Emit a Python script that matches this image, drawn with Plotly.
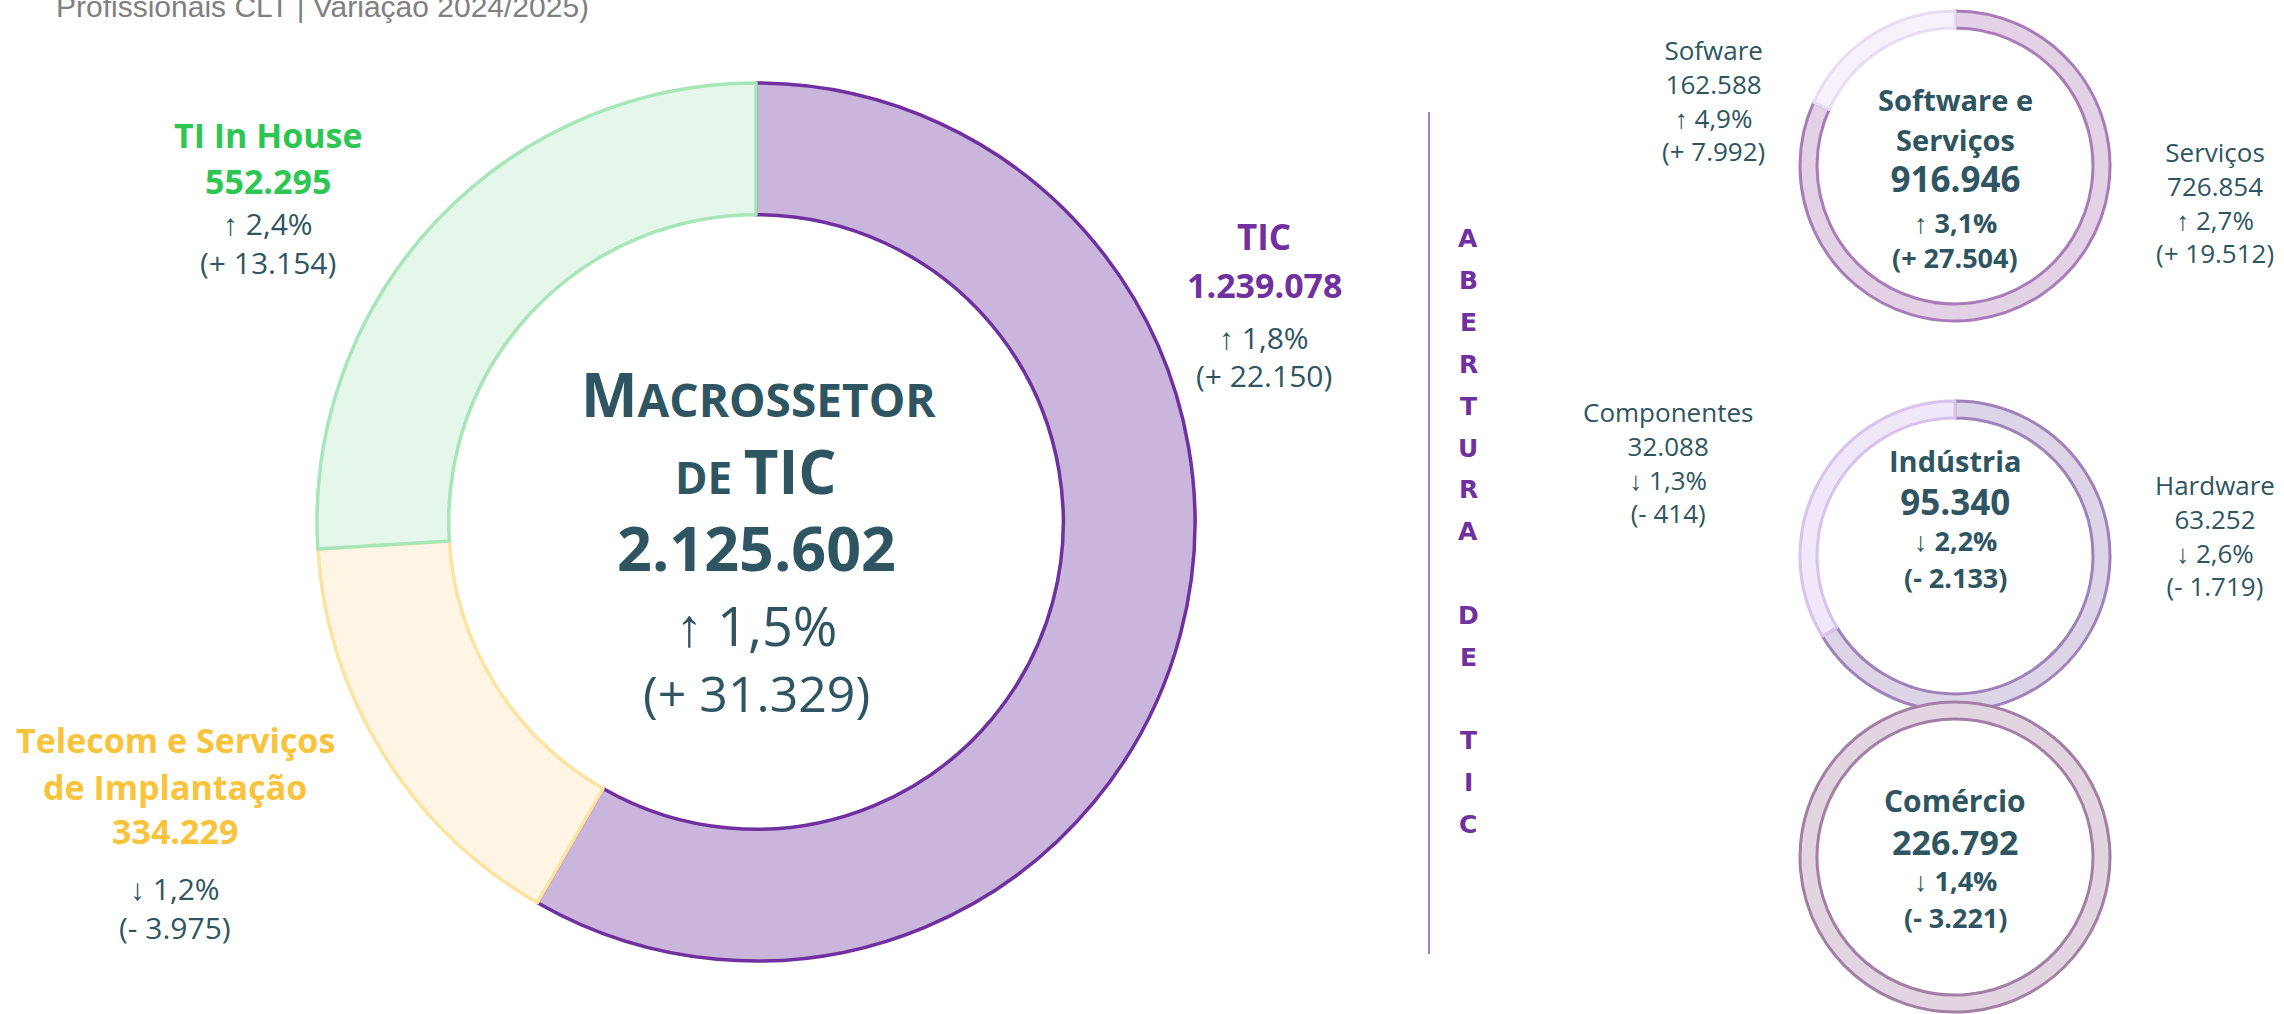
import plotly.graph_objects as go

W, H = 2284, 1014

# ---------------- data ----------------
main_labels = ["TIC", "Telecom e Serviços de Implantação", "TI In House"]
main_values = [1239078, 334229, 552295]
main_pct = [1.8, -1.2, 2.4]
main_delta = [22150, -3975, 13154]

total_value = 2125602
total_pct = 1.5
total_delta = 31329

sw_labels = ["Serviços", "Sofware"]
sw_values = [726854, 162588]
sw_pct = [2.7, 4.9]
sw_delta = [19512, 7992]
sw_total, sw_total_pct, sw_total_delta = 916946, 3.1, 27504

ind_labels = ["Hardware", "Componentes"]
ind_values = [63252, 32088]
ind_pct = [-2.6, -1.3]
ind_delta = [-1719, -414]
ind_total, ind_total_pct, ind_total_delta = 95340, -2.2, -2133

com_labels = ["Comércio"]
com_values = [226792]
com_pct, com_delta = -1.4, -3221

vertical_text = "ABERTURA DE TIC"
subtitle = "Profissionais CLT | Variação 2024/2025)"

# ---------------- helpers ----------------
def fint(n):
    return f"{abs(n):,}".replace(",", ".")

def fpct(p):
    arrow = "↑" if p >= 0 else "↓"
    return f"{arrow} " + f"{abs(p):.1f}".replace(".", ",") + "%"

def fdelta(d):
    sign = "+" if d >= 0 else "-"
    return f"({sign} {fint(d)})"

def px(x):
    return x / W

def py(y):
    return 1 - y / H

def dom(cx, cy, r):
    return dict(x=[px(cx - r), px(cx + r)], y=[py(cy + r), py(cy - r)])

DARK = "#2E5561"
PURPLE = "#7030A0"
GREEN = "#2DC653"
YELLOW = "#F9C33B"
BOLD_FONT = "Open Sans, Roboto, sans-serif"
REG_FONT = "Open Sans, Roboto, sans-serif"

fig = go.Figure()

# main donut
fig.add_trace(go.Pie(
    labels=main_labels, values=main_values, hole=0.70, sort=False,
    direction="clockwise", rotation=0, textinfo="none", showlegend=False,
    marker=dict(colors=["#CAB5DC", "#FEF5E4", "#E5F7EA"],
                line=dict(color=[PURPLE, "#FDE3A0", "#A6E6B8"], width=3.5)),
    domain=dom(756, 522, 439),
))

# small donuts
fig.add_trace(go.Pie(
    labels=sw_labels, values=sw_values, hole=0.89, sort=False,
    direction="clockwise", rotation=0, textinfo="none", showlegend=False,
    marker=dict(colors=["#E3D1E5", "#F6F1FA"],
                line=dict(color=["#A97CB9", "#E8DDF3"], width=3)),
    domain=dom(1955, 166, 155),
))
fig.add_trace(go.Pie(
    labels=ind_labels, values=ind_values, hole=0.89, sort=False,
    direction="clockwise", rotation=0, textinfo="none", showlegend=False,
    marker=dict(colors=["#DED4E7", "#F0E7F8"],
                line=dict(color=["#9E82BA", "#D8C2EE"], width=3)),
    domain=dom(1955, 556, 155),
))
fig.add_trace(go.Pie(
    labels=com_labels, values=com_values, hole=0.89, sort=False,
    direction="clockwise", rotation=-50, textinfo="none", showlegend=False,
    marker=dict(colors=["#E2D5E1"], line=dict(color=["#A37FA6"], width=3)),
    domain=dom(1955, 857, 155),
))

ann = []

def add(text, x, y, size, color=DARK, bold=False, family=None, xanchor="center"):
    if bold:
        text = f"<b>{text}</b>"
    ann.append(dict(text=text, x=px(x), y=py(y), xref="paper", yref="paper",
                    showarrow=False, xanchor=xanchor, yanchor="middle",
                    font=dict(size=size, color=color,
                              family=family or (BOLD_FONT if bold else REG_FONT))))

# subtitle (cut at top, as in the reference)
add(subtitle, 54, 6, 30, color="#808080", family="Liberation Sans, Arial, sans-serif", xanchor="left")

# center of main donut
add("<span style='font-size:60px'>M</span>ACROSSETOR", 758, 394, 46, bold=True)
add("DE <span style='font-size:60px'>TIC</span>", 756, 471, 44, bold=True)
add(fint(total_value), 756, 547, 61, bold=True)
add(fpct(total_pct), 756, 625, 54)
add(fdelta(total_delta), 756, 693, 50)

# TIC label
add(main_labels[0], 1264, 237, 35, color=PURPLE, bold=True)
add(fint(main_values[0]), 1264, 285, 34, color=PURPLE, bold=True)
add(fpct(main_pct[0]), 1264, 338, 30)
add(fdelta(main_delta[0]), 1264, 375, 30)

# TI In House label
add(main_labels[2], 268, 135, 34, color=GREEN, bold=True)
add(fint(main_values[2]), 268, 181, 34, color=GREEN, bold=True)
add(fpct(main_pct[2]), 268, 223, 30)
add(fdelta(main_delta[2]), 268, 262, 30)

# Telecom label
add("Telecom e Serviços", 175, 740, 34, color=YELLOW, bold=True)
add("de Implantação", 175, 787, 34, color=YELLOW, bold=True)
add(fint(main_values[1]), 175, 831, 34, color=YELLOW, bold=True)
add(fpct(main_pct[1]), 175, 888, 30)
add(fdelta(main_delta[1]), 175, 927, 30)

# divider + vertical text
shapes = [dict(type="line", xref="paper", yref="paper",
               x0=px(1429), x1=px(1429), y0=py(112), y1=py(954),
               line=dict(color="#A57DCF", width=2))]
for i, ch in enumerate(vertical_text):
    if ch.strip():
        add(ch, 1468, 239 + i * 41.8, 25, color=PURPLE, bold=True,
            family="DejaVu Sans, Arial Black, sans-serif")

def side_block(lines, x, y_first):
    ann.append(dict(text="<br>".join(lines), x=px(x), y=py(y_first - 17),
                    xref="paper", yref="paper", showarrow=False,
                    xanchor="center", yanchor="top", align="center",
                    font=dict(size=26, color=DARK, family=REG_FONT)))

# Software e Serviços donut
add("<span style='font-size:29px'>Software e</span><br>"
    "<span style='font-size:29px'>Serviços</span><br>"
    "<span style='font-size:35px'>" + fint(sw_total) + "</span>",
    1955, 141, 31, bold=True)
add(fpct(sw_total_pct), 1955, 222, 27, bold=True)
add(fdelta(sw_total_delta), 1955, 257, 27, bold=True)

side_block([sw_labels[1], fint(sw_values[1]), fpct(sw_pct[1]), fdelta(sw_delta[1])], 1713, 47)
side_block([sw_labels[0], fint(sw_values[0]), fpct(sw_pct[0]), fdelta(sw_delta[0])], 2215, 149)

# Indústria donut
add("<span style='font-size:29px'>Indústria</span><br><span style='font-size:35px'>"
    + fint(ind_total) + "</span>", 1955, 483, 33, bold=True)
add(fpct(ind_total_pct), 1955, 540, 27, bold=True)
add(fdelta(ind_total_delta), 1955, 577, 27, bold=True)

side_block([ind_labels[1], fint(ind_values[1]), fpct(ind_pct[1]), fdelta(ind_delta[1])], 1668, 409)
side_block([ind_labels[0], fint(ind_values[0]), fpct(ind_pct[0]), fdelta(ind_delta[0])], 2215, 482)

# Comércio donut
add(com_labels[0], 1955, 800, 30, bold=True)
add(fint(com_values[0]), 1955, 842, 34, bold=True)
add(fpct(com_pct), 1955, 880, 27, bold=True)
add(fdelta(com_delta), 1955, 917, 27, bold=True)

fig.update_layout(
    width=W, height=H, autosize=False,
    margin=dict(l=0, r=0, t=0, b=0),
    paper_bgcolor="white", plot_bgcolor="white",
    annotations=ann, shapes=shapes,
)

fig.write_html("out.html", config={"displayModeBar": False},
               post_script="document.body.style.margin='0';document.body.style.overflow='hidden';")
